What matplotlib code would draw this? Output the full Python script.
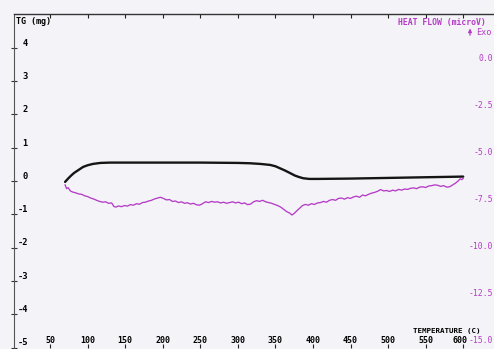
import matplotlib.pyplot as plt
import matplotlib.transforms as mtransforms

# TG curve (mg) vs temperature (C)
tg_temp = [70, 74, 78, 82, 86, 90, 94, 100, 107, 117, 130, 150, 200, 250, 300,
           316, 330, 343, 350, 356, 363, 370, 376, 381, 387, 395, 406, 450, 500,
           550, 600]
tg_mass = [-0.03, 0.07, 0.16, 0.24, 0.30, 0.36, 0.42, 0.47, 0.51, 0.54, 0.55,
           0.55, 0.55, 0.55, 0.54, 0.53, 0.51, 0.48, 0.44, 0.38, 0.31, 0.23,
           0.16, 0.12, 0.08, 0.06, 0.06, 0.07, 0.09, 0.11, 0.13]

# heat flow curve (microV) vs temperature (C)
hf_temp = [70, 72, 74, 77, 80, 84, 88, 92, 96, 100, 104, 108, 112, 116, 120,
           124, 128, 132, 135, 138, 141, 145, 149, 153, 157, 161, 165, 169, 173,
           177, 181, 185, 189, 193, 197, 201, 205, 209, 213, 217, 221, 225, 229,
           233, 237, 241, 245, 249, 253, 257, 261, 265, 269, 273, 277, 281, 285,
           289, 293, 297, 301, 305, 309, 313, 317, 321, 325, 329, 333, 337, 341,
           345, 349, 353, 357, 361, 365, 369, 372, 375, 378, 382, 386, 390, 394,
           398, 402, 406, 410, 414, 418, 422, 426, 430, 434, 438, 442, 446, 450,
           454, 458, 462, 466, 470, 474, 478, 482, 486, 490, 494, 498, 502, 506,
           510, 514, 518, 522, 526, 530, 534, 538, 542, 546, 550, 554, 558, 562,
           566, 570, 574, 578, 582, 586, 590, 593, 596, 598, 600]
hf_value = [-6.80, -7.00, -6.95, -7.12, -7.18, -7.22, -7.28, -7.30, -7.38,
            -7.42, -7.50, -7.55, -7.62, -7.68, -7.72, -7.70, -7.78, -7.76,
            -7.95, -7.98, -7.92, -7.96, -7.90, -7.93, -7.85, -7.88, -7.80,
            -7.83, -7.74, -7.72, -7.66, -7.62, -7.55, -7.50, -7.46, -7.52,
            -7.60, -7.58, -7.68, -7.66, -7.74, -7.70, -7.78, -7.75, -7.82,
            -7.78, -7.86, -7.88, -7.80, -7.70, -7.74, -7.68, -7.72, -7.70,
            -7.76, -7.72, -7.78, -7.74, -7.70, -7.76, -7.72, -7.80, -7.76,
            -7.85, -7.82, -7.70, -7.64, -7.68, -7.62, -7.70, -7.74, -7.78,
            -7.84, -7.90, -7.98, -8.10, -8.22, -8.30, -8.40, -8.32, -8.20,
            -8.05, -7.90, -7.84, -7.88, -7.80, -7.84, -7.76, -7.74, -7.68,
            -7.72, -7.62, -7.58, -7.62, -7.52, -7.50, -7.56, -7.48, -7.52,
            -7.44, -7.40, -7.46, -7.34, -7.38, -7.30, -7.24, -7.20, -7.14,
            -7.05, -7.12, -7.10, -7.15, -7.08, -7.12, -7.04, -7.08, -7.02,
            -7.04, -6.98, -6.96, -7.00, -6.92, -6.90, -6.94, -6.86, -6.84,
            -6.80, -6.82, -6.88, -6.84, -6.92, -6.90, -6.80, -6.70, -6.60,
            -6.48, -6.52, -6.46]

x_ticks = [50, 100, 150, 200, 250, 300, 350, 400, 450, 500, 550, 600]
tg_ticks = [4, 3, 2, 1, 0, -1, -2, -3, -4, -5]
hf_ticks = [0.0, -2.5, -5.0, -7.5, -10.0, -12.5, -15.0]

paper = '#f4f3f8'
pink = '#b53cc6'
mono = 'DejaVu Sans Mono'

fig = plt.figure(figsize=(4.94, 3.49), dpi=100, facecolor=paper)
ax = fig.add_axes([14 / 494, 1.5 / 349, 480 / 494, 333.5 / 349])
ax.set_facecolor(paper)
ax2 = ax.twinx()

ax.plot(tg_temp, tg_mass, color='#151515', lw=1.7, solid_capstyle='round')
ax2.plot(hf_temp, hf_value, color=pink, lw=0.95)

ax.set_xlim(2, 641)
ax.set_ylim(-5, 5.01)
ax2.set_ylim(-15.45, 2.29)

for sp in ['right', 'bottom']:
    ax.spines[sp].set_visible(False)
    ax2.spines[sp].set_visible(False)
ax2.spines['left'].set_visible(False)
ax2.spines['top'].set_visible(False)
ax.spines['top'].set_color('#333333')
ax.spines['left'].set_color('#555555')
ax.spines['top'].set_linewidth(1.0)
ax.spines['left'].set_linewidth(0.8)

ax.set_xticks(x_ticks)
ax.set_xticklabels([str(v) for v in x_ticks], fontfamily=mono,
                   fontweight='bold', fontsize=6.0)
ax.tick_params(axis='x', direction='in', length=3, width=0.8, pad=-8,
               top=True, color='#222222')
left = mtransforms.ScaledTranslation(-2.5 / 72, 0, fig.dpi_scale_trans)
last = ax.get_xticklabels()[-1]
last.set_transform(last.get_transform() + left)

ax.set_yticks(tg_ticks)
ax.set_yticklabels([str(v) for v in tg_ticks], fontfamily=mono,
                   fontweight='bold', fontsize=6.3)
ax.tick_params(axis='y', direction='inout', length=4, width=0.8, pad=-12,
               color='#333333')
up = mtransforms.ScaledTranslation(0, 4 / 72, fig.dpi_scale_trans)
for lab in ax.get_yticklabels():
    lab.set_transform(lab.get_transform() + up)

ax2.set_yticks(hf_ticks)
ax2.set_yticklabels([f'{v:.1f}' for v in hf_ticks], fontfamily=mono,
                    fontsize=5.9, color=pink)
ax2.tick_params(axis='y', length=0, pad=-0.5)
for lab in ax2.get_yticklabels():
    lab.set_horizontalalignment('right')

ax.text(0.005, 0.979, 'TG (mg)', transform=ax.transAxes, fontfamily=mono,
        fontweight='bold', fontsize=6, va='center', ha='left')
ax.text(0.80, 0.976, 'HEAT FLOW (microV)', transform=ax.transAxes,
        fontfamily=mono, fontweight='bold', fontsize=5.9, va='center',
        ha='left', color=pink)
ax.annotate('', xy=(0.950, 0.965), xytext=(0.950, 0.928),
            xycoords='axes fraction',
            arrowprops=dict(arrowstyle='-|>', color=pink, lw=0.9,
                            mutation_scale=5))
ax.text(0.962, 0.946, 'Exo', transform=ax.transAxes, fontfamily=mono,
        fontsize=6.1, va='center', ha='left', color=pink)
ax.text(0.831, 0.05, 'TEMPERATURE (C)', transform=ax.transAxes,
        fontfamily=mono, fontweight='bold', fontsize=5.4, va='center',
        ha='left')

fig.savefig('out.png', dpi=100, facecolor=paper)
